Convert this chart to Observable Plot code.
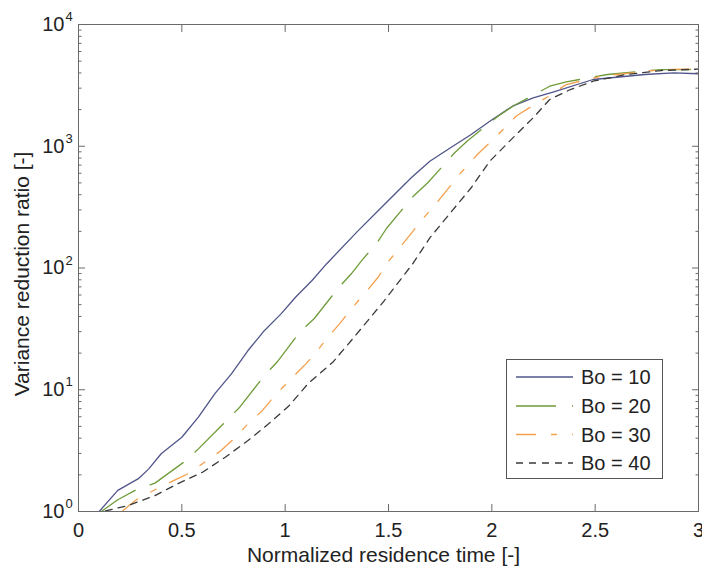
<!DOCTYPE html>
<html><head><meta charset="utf-8">
<script src="https://cdn.jsdelivr.net/npm/d3@7"></script>
<script src="https://cdn.jsdelivr.net/npm/@observablehq/plot@0.6"></script>
<style>
body{margin:0;background:#fff;}
#wrap{position:relative;width:702px;height:567px;}
#legend{position:absolute;left:0;top:0;pointer-events:none;}
</style></head><body><div id="wrap"></div>
<script>
// ---- data ----
const seriesNames = ["Bo = 10", "Bo = 20", "Bo = 30", "Bo = 40"];

const t10 = [0.10,0.19,0.29,0.34,0.40,0.50,0.58,0.66,0.74,0.82,0.90,0.98,1.05,1.13,1.20,1.35,1.48,1.61,1.70,1.80,1.90,1.99,2.10,2.20,2.30,2.49,2.74,2.88,3.00];
const v10 = [1,1.49,1.86,2.24,2.98,4.07,5.95,9.3,13.5,21,30.7,42,57.5,79,108,200,332,551,754,971,1248,1606,2133,2500,2800,3534,3884,4010,3940];

const t20 = [0.11,0.19,0.28,0.37,0.52,0.58,0.72,0.78,0.90,0.96,1.07,1.14,1.26,1.32,1.37,1.45,1.49,1.62,1.69,1.82,1.88,2.03,2.11,2.28,2.36,2.56,2.82,3.00];
const v20 = [1,1.25,1.51,1.71,2.62,3.27,5.66,7.19,13.1,16.8,29.7,38.3,69.5,89.6,115,166,211,389,501,884,1101,1766,2173,3112,3380,3884,4266,4266];

const t30 = [0.21,0.28,0.37,0.48,0.53,0.61,0.69,0.76,0.82,0.89,0.95,1.02,1.10,1.15,1.20,1.27,1.32,1.39,1.45,1.49,1.56,1.67,1.74,1.85,1.93,2.03,2.12,2.22,2.28,2.36,2.53,2.82,3.00];
const v30 = [1,1.25,1.51,1.86,2.04,2.54,3.17,4.07,5.25,6.76,8.97,11.9,16.3,20.3,26.2,35.9,46.2,63.3,84,108,151,258,354,605,855,1248,1780,2275,2600,3214,3764,4266,4300];

const t40 = [0.13,0.24,0.37,0.48,0.60,0.71,0.82,0.92,1.02,1.11,1.23,1.32,1.40,1.48,1.62,1.70,1.80,1.90,1.99,2.11,2.20,2.28,2.38,2.49,2.65,2.82,3.00];
const v40 = [1.01,1.12,1.35,1.69,2.1,2.79,3.83,5.25,7.42,11.2,16.8,25.4,37,54,110,177,284,456,754,1210,1714,2421,2924,3420,3884,4188,4300];

const xTicks = [0, 0.5, 1, 1.5, 2, 2.5, 3];
const yTicks = [1, 10, 100, 1000, 10000];
const yTickBase = "10";
const yTickExp = ["0", "1", "2", "3", "4"];
const yMinor = [2,3,4,5,6,7,8,9,20,30,40,50,60,70,80,90,200,300,400,500,600,700,800,900,2000,3000,4000,5000,6000,7000,8000,9000];
const xLabel = "Normalized residence time [-]";
const yLabel = "Variance reduction ratio [-]";

// ---- styles ----
const colors = ["#50558a", "#6f9c3a", "#f4a04c", "#3a3a3a"];
const dashes = [null, "40,16", "20,15,6,15", "7,6"];
const axisColor = "#6a6a6a";
const textColor = "#222";

const seriesT = [t10, t20, t30, t40];
const seriesV = [v10, v20, v30, v40];
const tables = seriesT.map((ts, i) => ts.map((t, j) => ({t, v: seriesV[i][j], s: seriesNames[i]})));

const lineMarks = tables.map((tab, i) => Plot.line(tab, {
  x: "t", y: "v", stroke: colors[i], strokeWidth: 1.3,
  strokeDasharray: dashes[i] ?? undefined, clip: true
}));

const chart = Plot.plot({
  width: 702, height: 567,
  marginLeft: 78, marginRight: 4, marginTop: 24, marginBottom: 56,
  style: {fontFamily: "'Liberation Sans', Arial, sans-serif", fontSize: "20px", color: textColor, background: "white"},
  x: {domain: [0, 3], label: null},
  y: {type: "log", domain: [1, 10000], label: null},
  marks: [
    ...lineMarks,
    // ticks (inward) on all four sides
    Plot.axisX({anchor: "bottom", ticks: xTicks, tickSize: -7, fill: "none", stroke: axisColor, label: null}),
    Plot.axisX({anchor: "top", ticks: xTicks, tickSize: -7, fill: "none", stroke: axisColor, label: null}),
    Plot.axisY({anchor: "left", ticks: yTicks, tickSize: -7, fill: "none", stroke: axisColor, label: null}),
    Plot.axisY({anchor: "right", ticks: yTicks, tickSize: -7, fill: "none", stroke: axisColor, label: null}),
    Plot.axisY({anchor: "left", ticks: yMinor, tickSize: -3.5, fill: "none", stroke: axisColor, label: null}),
    Plot.axisY({anchor: "right", ticks: yMinor, tickSize: -3.5, fill: "none", stroke: axisColor, label: null}),
    // x tick labels
    Plot.axisX({anchor: "bottom", ticks: xTicks, tickSize: 0, tickPadding: 11, fill: textColor, fontSize: 20, tickFormat: d => String(d), label: null}),
    // y tick labels 10^k
    Plot.text(yTicks, {y: d => d, frameAnchor: "left", text: () => yTickBase, textAnchor: "end", lineAnchor: "middle", dx: -14, fontSize: 20, fill: textColor}),
    Plot.text(yTicks, {y: d => d, frameAnchor: "left", text: (d, i) => yTickExp[i], textAnchor: "start", lineAnchor: "middle", dx: -13, dy: -7.5, fontSize: 13, fill: textColor}),
    // axis titles
    Plot.text([xLabel], {frameAnchor: "bottom", text: d => d, textAnchor: "middle", lineAnchor: "middle", dy: 44, dx: -5, fontSize: 21, fill: textColor}),
    Plot.text([yLabel], {frameAnchor: "left", text: d => d, textAnchor: "middle", lineAnchor: "middle", rotate: -90, dx: -56, dy: 6, fontSize: 21, fill: textColor}),
    Plot.frame({stroke: axisColor})
  ]
});

const wrap = document.getElementById("wrap");
wrap.appendChild(chart);

// ---- legend overlay ----
const leg = d3.select(wrap).append("svg").attr("id", "legend")
  .attr("width", 702).attr("height", 567);
leg.append("rect").attr("x", 506.5).attr("y", 359.5).attr("width", 156).attr("height", 119)
  .attr("fill", "white").attr("stroke", "#555").attr("stroke-width", 1);
const rowY = [377, 406, 434.5, 463];
seriesNames.forEach((name, i) => {
  leg.append("line").attr("x1", 516).attr("x2", 573).attr("y1", rowY[i]).attr("y2", rowY[i])
    .attr("stroke", colors[i]).attr("stroke-width", 1.3)
    .attr("stroke-dasharray", dashes[i] || null);
  leg.append("text").attr("x", 581).attr("y", rowY[i]).attr("dy", "0.35em")
    .attr("font-family", "'Liberation Sans', Arial, sans-serif").attr("font-size", 20)
    .attr("fill", textColor).text(name);
});
</script>
</body></html>
